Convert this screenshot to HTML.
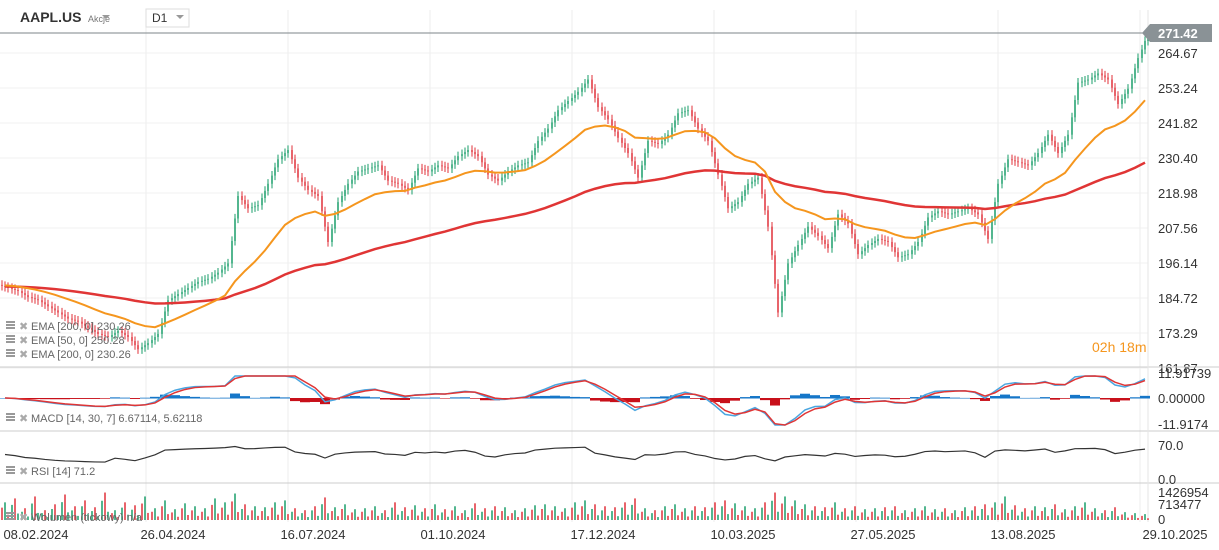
<!DOCTYPE html>
<html><head><meta charset="utf-8"><style>
body{margin:0;background:#fff;font-family:"Liberation Sans",sans-serif;}
#wrap{position:relative;width:1219px;height:550px;overflow:hidden;}
svg text{font-family:"Liberation Sans",sans-serif;}
</style></head><body>
<div id="wrap">
<svg id="c" width="1219" height="550"></svg>
</div>
<script>
const closes=[188,187,185,184,182,180,178,177,175,173,172,174,172,168,170,173,184,186,188,190,191,193,196,218,214,215,222,230,233,224,220,218,203,216,222,226,227,228,223,222,220,227,226,228,227,231,233,231,225,223,226,228,229,236,240,246,249,252,256,247,243,237,232,224,236,235,238,245,246,240,236,225,214,216,222,224,208,180,196,202,208,205,201,212,209,199,202,204,203,198,199,203,211,213,212,213,214,212,204,222,230,229,228,232,238,232,238,255,256,258,256,248,253,263,271.4];
const volumes=[900,1100,600,1200,500,800,1300,700,1000,650,1400,500,900,750,1200,600,1000,550,850,700,600,1100,900,1350,800,700,650,900,1000,600,500,700,1150,650,800,550,600,700,500,900,650,750,600,800,550,700,500,850,600,700,650,500,600,750,800,700,600,900,1000,800,700,650,900,1100,600,500,700,800,600,700,650,900,1000,850,700,600,900,1400,1200,1000,800,700,650,900,600,700,550,600,650,700,500,600,700,550,600,500,650,700,800,900,1200,750,600,700,650,800,550,700,900,600,500,650,400,350,300];
const priceTicks=[271.42,264.67,253.24,241.82,230.40,218.98,207.56,196.14,184.72,173.29,161.87];
const dateLabels=["08.02.2024","26.04.2024","16.07.2024","01.10.2024","17.12.2024","10.03.2025","27.05.2025","13.08.2025"];
const dateIdx=[3,17,31,45,60,74,88,102];

const S=document.getElementById('c'),NS='http://www.w3.org/2000/svg';
function el(t,a,p){const e=document.createElementNS(NS,t);for(const k in a)e.setAttribute(k,a[k]);(p||S).appendChild(e);return e;}
const X0=5,DX=10;
const xi=i=>X0+i*DX;
const yP=p=>158+(230.40-p)*3.065;
for(let i=0;i<8;i++){const g=el('line',{x1:146+i*142,x2:146+i*142,y1:10,y2:522,stroke:'#eee'});}
priceTicks.forEach((p,i)=>{if(i==0)return;const g=el('line',{x1:0,x2:1148,y1:yP(p),y2:yP(p),stroke:'#f0f0f0'});
const t=el('text',{x:1158,y:yP(p)+5,'font-size':13,fill:'#333'});t.textContent=p.toFixed(2);});
[367,431,483].forEach(y=>{const l=el('line',{x1:0,x2:1219,y1:y,y2:y,stroke:'#ccc'});});
el('line',{x1:1148,x2:1148,y1:10,y2:522,stroke:'#e6e6e6'});
closes.forEach((c,i)=>{const o=i?closes[i-1]:c+1;const up=c>=o;const col=up?'#1a9e6a':'#e0303a';
const x=xi(i);
[-3,0,3].forEach((dx,k)=>{const a=o+(c-o)*k/3,b=o+(c-o)*(k+1)/3;
const hi=Math.max(a,b)+1.5,lo=Math.min(a,b)-1.5;
const w=el('line',{x1:x+dx,x2:x+dx,y1:yP(hi),y2:yP(lo),stroke:col,'stroke-width':1});
const r=el('rect',{x:x+dx-0.75,y:yP(Math.max(a,b)),width:1.5,height:Math.max(1,Math.abs(a-b)*3.065),fill:col});});});
function ema(arr,a,seed){let e=seed;return arr.map(v=>e=e+a*(v-e));}
const e50=ema(closes,2/14,189),e200=ema(closes,2/53,188.5);
function poly(vals,fy,col,w,name){const p=el('polyline',{points:vals.map((v,i)=>xi(i)+','+fy(v)).join(' '),fill:'none',stroke:col,'stroke-width':w});}
poly(e200,yP,'#e03535',2.5,'ema-200-line');
poly(e50,yP,'#f5961e',2,'ema-50-line');
el('line',{x1:0,x2:1148,y1:33,y2:33,stroke:'#7d868a'});
const pb=el('polygon',{points:'1142,33 1150,24 1212,24 1212,42 1150,42',fill:'#8a9296'});
const pt=el('text',{x:1158,y:38,'font-size':13,fill:'#fff','font-weight':'bold'});pt.textContent='271.42';
const tm=el('text',{x:1092,y:352,'font-size':14,fill:'#f5961e'});tm.textContent='02h 18m';
// MACD
const f=ema(closes,2/5,closes[0]),s=ema(closes,2/9,closes[0]);const macd=f.map((v,i)=>v-s[i]);const sig=ema(macd,2/3,0);
const yM=v=>398-Math.max(-27,Math.min(22,v*3));
macd.forEach((m,i)=>{const h=(m-sig[i])*1.2;const r=el('rect',{x:xi(i)-5,y:Math.min(398,yM(h)),width:10,height:Math.abs(yM(h)-398)+0.5,fill:h>=0?'#1576c8':'#c8101a'});});
poly(macd,yM,'#4aa6e0',1.5,'macd-line');poly(sig,yM,'#e03535',1.5,'macd-signal-line');
[['11.91739',378],['0.00000',403],['-11.9174',429]].forEach(a=>{const t=el('text',{x:1158,y:a[1],'font-size':13,fill:'#333'});t.textContent=a[0];});
// RSI
let ag=1,al=1;const rsi=closes.map((c,i)=>{const d=i?c-closes[i-1]:0;ag=ag*0.8+Math.max(d,0)*0.2;al=al*0.8+Math.max(-d,0)*0.2;return 100-100/(1+ag/(al||0.01));});
const yR=v=>480-(35+v*0.35)*0.486;
poly(rsi,yR,'#333',1.2,'rsi-line');
[['70.0',450],['0.0',484]].forEach(a=>{const t=el('text',{x:1158,y:a[1],'font-size':13,fill:'#333'});t.textContent=a[0];});
volumes.forEach((v,i)=>{const up=i?closes[i]>=closes[i-1]:true;[-3,0,3].forEach((dx,k)=>{const h=v*(k==1?1:0.7-0.2*k)/1427*28;const r=el('rect',{x:xi(i)+dx-0.75,y:520-h,width:1.5,height:h,fill:(k==1?up:!up)?'#1a9e6a':'#e0303a'});});});
[['1426954',497],['713477',509],['0',524]].forEach(a=>{const t=el('text',{x:1158,y:a[1],'font-size':13,fill:'#333'});t.textContent=a[0];});
dateLabels.forEach((d,k)=>{const t=el('text',{x:Math.max(36,xi(dateIdx[k])-2),y:539,'font-size':13,fill:'#333','text-anchor':'middle'});t.textContent=d;});
const lt=el('text',{x:1175,y:539,'font-size':13,fill:'#333','text-anchor':'middle'});lt.textContent='29.10.2025';
function leg(y,txt,name){const g=el('g',{});
el('rect',{x:6,y:y-8,width:9,height:2,fill:'#999'},g);el('rect',{x:6,y:y-5,width:9,height:2,fill:'#999'},g);el('rect',{x:6,y:y-2,width:9,height:2,fill:'#999'},g);
const x=el('text',{x:19,y:y+1,'font-size':11,fill:'#aaa'},g);x.textContent='✖';
const t=el('text',{x:31,y:y+1,'font-size':11,fill:'#666'},g);t.textContent=txt;}
leg(329,'EMA  [200,  0]  230.26','ema-200-legend');leg(343,'EMA  [50,  0]  250.28','ema-50-legend');leg(357,'EMA  [200,  0]  230.26','ema-200-legend-2');
leg(421,'MACD  [14,  30,  7]  6.67114,   5.62118','macd-legend');leg(474,'RSI  [14]  71.2','rsi-legend');leg(520,'Wolumen  (tickowy)  n/a','volume-legend');
const h=el('text',{x:20,y:22,'font-size':14,'font-weight':'bold',fill:'#333'});h.textContent='AAPL.US';
const a=el('text',{x:88,y:22,'font-size':9,fill:'#777'});a.textContent='Akcje';
el('polygon',{points:'102,15 110,15 106,19',fill:'#999'});
const tf=el('rect',{x:146,y:9,width:43,height:18,fill:'#fff',stroke:'#ddd'});
const tt=el('text',{x:152,y:22,'font-size':12,fill:'#333'});tt.textContent='D1';
el('polygon',{points:'176,15 184,15 180,19',fill:'#999'});
</script>
</body></html>
